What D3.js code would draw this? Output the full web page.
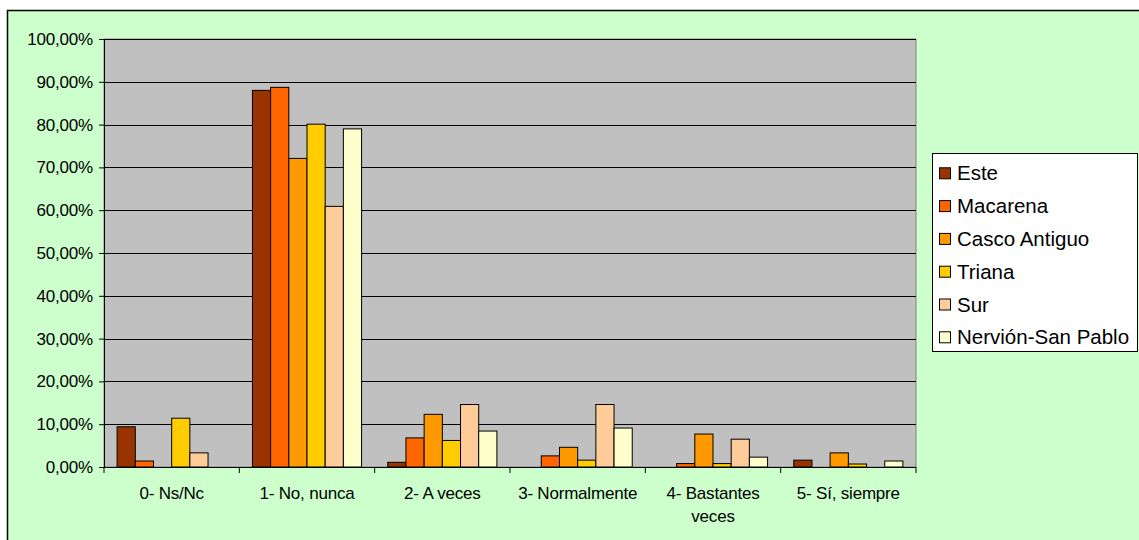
<!DOCTYPE html>
<html>
<head>
<meta charset="utf-8">
<script src="https://cdn.jsdelivr.net/npm/d3@7"></script>
<style>
  html, body { margin: 0; padding: 0; background: #fff; }
  svg { display: block; }
  text { font-family: "Liberation Sans", Arial, sans-serif; fill: #000; }
</style>
</head>
<body>
<div id="chart"></div>
<script>
var w = 1139, h = 540;

// categories (x axis)
var categories = ["0- Ns/Nc", "1- No, nunca", "2- A veces", "3- Normalmente", "4- Bastantes veces", "5- Sí, siempre"];
// series (zones)
var series = ["Este", "Macarena", "Casco Antiguo", "Triana", "Sur", "Nervión-San Pablo"];
var colors = ["#993300", "#FF6600", "#FF9900", "#FFCC00", "#FFCC99", "#FFFFCC"];

// values per series, one per category (fractions)
var este     = [0.094, 0.880, 0.011, 0.000, 0.000, 0.016];
var macarena = [0.014, 0.887, 0.068, 0.026, 0.008, 0.000];
var casco    = [0.000, 0.721, 0.123, 0.046, 0.077, 0.033];
var triana   = [0.114, 0.801, 0.062, 0.016, 0.008, 0.007];
var sur      = [0.033, 0.609, 0.146, 0.146, 0.065, 0.000];
var nervion  = [0.000, 0.790, 0.084, 0.091, 0.023, 0.014];
var values = [este, macarena, casco, triana, sur, nervion];

var yTicks = d3.range(0, 1.0001, 0.1);

var plot = {left: 104, right: 916, top: 39, bottom: 467};

var svg = d3.select("#chart").append("svg")
    .attr("width", w)
    .attr("height", h);

// chart area background
svg.append("rect")
    .attr("x", 7.5).attr("y", 10.5)
    .attr("width", w + 10).attr("height", h + 10)
    .attr("fill", "#CCFFCC")
    .attr("stroke", "#000")
    .attr("stroke-width", 1.5);

var x0 = d3.scaleBand().domain(categories).range([plot.left, plot.right]).padding(0);
var x1 = d3.scaleBand().domain(series).range([0, x0.bandwidth()]).paddingInner(0).paddingOuter(0.72);
var y = d3.scaleLinear().domain([0, 1]).range([plot.bottom, plot.top]);

// plot area
svg.append("rect")
    .attr("x", plot.left).attr("y", plot.top)
    .attr("width", plot.right - plot.left).attr("height", plot.bottom - plot.top)
    .attr("fill", "#C0C0C0")
    .attr("stroke", "#808080")
    .attr("stroke-width", 1);

// gridlines
svg.append("g").selectAll("line")
    .data(yTicks.slice(1))
  .enter().append("line")
    .attr("x1", plot.left).attr("x2", plot.right)
    .attr("y1", function(d) { return Math.round(y(d)) + 0.5; })
    .attr("y2", function(d) { return Math.round(y(d)) + 0.5; })
    .attr("stroke", "#000")
    .attr("stroke-width", 1);

// bars
var groups = svg.append("g").selectAll("g")
    .data(series)
  .enter().append("g")
    .attr("fill", function(d, i) { return colors[i]; });

groups.selectAll("rect")
    .data(function(s, i) { return values[i].map(function(v, j) { return {s: s, c: categories[j], v: v}; }); })
  .enter().filter(function(d) { return d.v > 0; }).append("rect")
    .attr("x", function(d) { return x0(d.c) + x1(d.s); })
    .attr("y", function(d) { return y(d.v); })
    .attr("width", x1.bandwidth())
    .attr("height", function(d) { return y(0) - y(d.v); })
    .attr("stroke", "#000")
    .attr("stroke-width", 1);

// y axis
var fmt = d3.format(".2%");
var yAxis = d3.axisLeft(y)
    .tickValues(yTicks)
    .tickSize(5)
    .tickPadding(6)
    .tickFormat(function(d) { return fmt(d).replace(".", ","); });

var gy = svg.append("g")
    .attr("transform", "translate(" + plot.left + ",0)")
    .call(yAxis);
gy.select(".domain").attr("stroke", "#000");
gy.selectAll(".tick line").attr("stroke", "#000");
gy.selectAll(".tick text")
    .style("font-family", "'Liberation Sans', Arial, sans-serif")
    .style("font-size", "17px")
    .style("letter-spacing", "-0.2px")
    .attr("fill", "#000");

// x axis
var gx = svg.append("g")
    .attr("transform", "translate(0," + plot.bottom + ")");
gx.append("line")
    .attr("x1", plot.left).attr("x2", plot.right)
    .attr("y1", 0.5).attr("y2", 0.5)
    .attr("stroke", "#000");
gx.selectAll("line.tk")
    .data(categories.concat([null]))
  .enter().append("line")
    .attr("class", "tk")
    .attr("x1", function(d) { return d === null ? plot.right : x0(d); })
    .attr("x2", function(d) { return d === null ? plot.right : x0(d); })
    .attr("y1", 0).attr("y2", 6)
    .attr("stroke", "#000");

var labels = gx.selectAll("text")
    .data(categories)
  .enter().append("text")
    .attr("x", function(d) { return x0(d) + x0.bandwidth() / 2; })
    .attr("y", 32)
    .attr("text-anchor", "middle")
    .style("font-size", "17px")
    .style("letter-spacing", "-0.2px");

labels.each(function(d) {
  var t = d3.select(this), words = d.split(" "), line = [];
  var xx = +t.attr("x");
  var span = t.append("tspan").attr("x", xx).attr("dy", 0);
  words.forEach(function(word) {
    line.push(word);
    span.text(line.join(" "));
    if (span.node().getComputedTextLength() > x0.bandwidth() - 6 && line.length > 1) {
      line.pop();
      span.text(line.join(" "));
      line = [word];
      span = t.append("tspan").attr("x", xx).attr("dy", 23).text(word);
    }
  });
});

// legend
var legend = svg.append("g");
legend.append("rect")
    .attr("x", 932.5).attr("y", 153.5)
    .attr("width", 205).attr("height", 198)
    .attr("fill", "#fff")
    .attr("stroke", "#000");

var items = legend.selectAll("g")
    .data(series)
  .enter().append("g")
    .attr("transform", function(d, i) { return "translate(0," + (173.3 + i * 32.8) + ")"; });

items.append("rect")
    .attr("x", 939.5).attr("y", -5.5)
    .attr("width", 11).attr("height", 11)
    .attr("fill", function(d, i) { return colors[i]; })
    .attr("stroke", "#000");

items.append("text")
    .attr("x", 957)
    .attr("dy", "0.35em")
    .style("font-size", "20.5px")
    .text(function(d) { return d; });
</script>
</body>
</html>
